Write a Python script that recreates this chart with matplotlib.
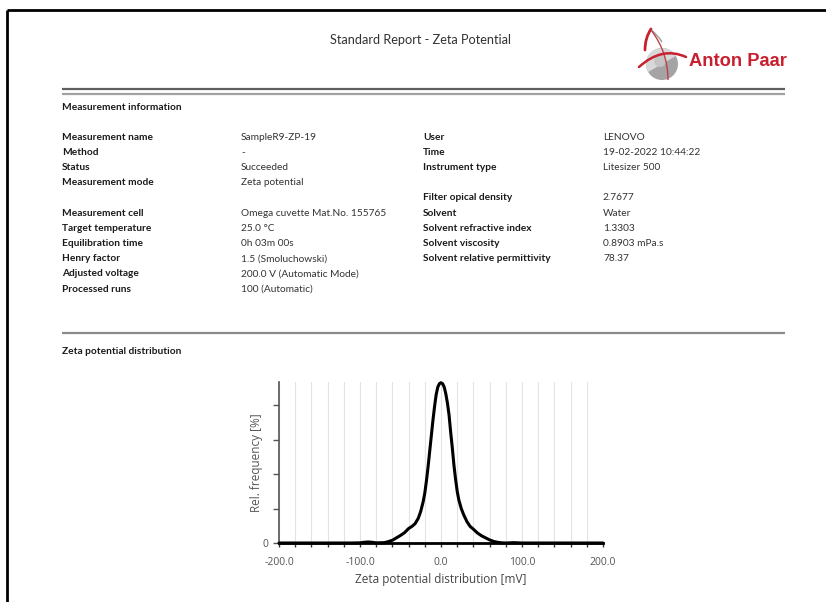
import matplotlib
matplotlib.use("Agg")
import matplotlib.pyplot as plt
from matplotlib.patches import Circle, Wedge, PathPatch
from matplotlib.path import Path
from matplotlib.ticker import MultipleLocator, FixedLocator

# ---------------- report content ----------------
report_title = "Standard Report - Zeta Potential"
brand = "Anton Paar"
section_info = "Measurement information"
section_dist = "Zeta potential distribution"

left_labels = ["Measurement name", "Method", "Status", "Measurement mode", None,
               "Measurement cell", "Target temperature", "Equilibration time",
               "Henry factor", "Adjusted voltage", "Processed runs"]
left_values = ["SampleR9-ZP-19", "-", "Succeeded", "Zeta potential", None,
               "Omega cuvette Mat.No. 155765", "25.0 \u00b0C", "0h 03m 00s",
               "1.5 (Smoluchowski)", "200.0 V (Automatic Mode)", "100 (Automatic)"]
right_labels = ["User", "Time", "Instrument type", None, "Filter opical density",
                "Solvent", "Solvent refractive index", "Solvent viscosity",
                "Solvent relative permittivity"]
right_values = ["LENOVO", "19-02-2022 10:44:22", "Litesizer 500", None, "2.7677",
                "Water", "1.3303", "0.8903 mPa.s", "78.37"]

# ---------------- distribution data ----------------
zeta_mv = [-200, -110, -100, -95, -90, -85, -80, -70, -65, -60, -55, -50, -45,
           -40, -36, -32, -28, -25, -22, -20, -18, -16, -14, -12, -10, -8, -6,
           -4, -2, 0, 2, 4, 6, 8, 10, 12, 14, 16, 18, 20, 22, 25, 28, 32, 36,
           40, 45, 50, 55, 60, 65, 70, 75, 80, 90, 100, 200]
rel_freq = [0, 0, 0.005, 0.02, 0.03, 0.02, 0.005, 0.01, 0.04, 0.08, 0.15, 0.22,
            0.30, 0.42, 0.48, 0.56, 0.72, 0.92, 1.2, 1.45, 1.8, 2.2, 2.65, 3.1,
            3.55, 3.95, 4.3, 4.52, 4.62, 4.65, 4.62, 4.52, 4.32, 4.05, 3.7, 3.2,
            2.75, 2.25, 1.85, 1.5, 1.25, 1.0, 0.82, 0.62, 0.48, 0.40, 0.29, 0.21,
            0.15, 0.09, 0.045, 0.02, 0.005, 0, 0.01, 0, 0]
x_major = [-200, -100, 0, 100, 200]
x_major_labels = ["-200.0", "-100.0", "0.0", "100.0", "200.0"]
y_ticks = [0, 1, 2, 3, 4]
y_tick_labels = ["0", "", "", "", ""]

W, H = 826, 602
fig = plt.figure(figsize=(W / 100, H / 100), dpi=100)
fig.patch.set_facecolor("white")

# page layer in pixel coordinates (y downwards)
page = fig.add_axes([0, 0, 1, 1], zorder=0)
page.set_xlim(0, W)
page.set_ylim(H, 0)
page.axis("off")

TXT = "Lato"

# page frame
page.plot([7, W], [10, 10], color="black", lw=2.0, solid_capstyle="butt")
page.plot([7, 7], [10, H], color="black", lw=2.0, solid_capstyle="butt")

# title
page.text(421, 40, report_title, fontsize=9.2, family=TXT, color="#333333",
          ha="center", va="center")

# logo: grey sphere with red orbit strokes
page.add_patch(Circle((662, 64), 16, facecolor="#a4a4a4", edgecolor="none"))
page.add_patch(Wedge((662, 64), 16, 150, 330, facecolor="#d8d8d8",
                     edgecolor="none"))
page.add_patch(Circle((660, 61), 6, facecolor="#c4c4c4", edgecolor="none"))
red = "#c8202f"
apex_grey = Path([(651, 30), (657, 34), (662, 42)],
                 [Path.MOVETO, Path.CURVE3, Path.CURVE3])
page.add_patch(PathPatch(apex_grey, facecolor="none", edgecolor="#9a9a9a", lw=1.0))
apex = Path([(645, 50), (645, 38), (651, 29)],
            [Path.MOVETO, Path.CURVE3, Path.CURVE3])
page.add_patch(PathPatch(apex, facecolor="none", edgecolor=red, lw=2.0,
                         capstyle="round"))
stem = Path([(651, 30), (668, 52), (668, 80)], [Path.MOVETO, Path.CURVE3, Path.CURVE3])
page.add_patch(PathPatch(stem, facecolor="none", edgecolor="#c0404a", lw=1.0))
orbit = Path([(639, 67), (662, 46), (686, 57)],
             [Path.MOVETO, Path.CURVE3, Path.CURVE3])
page.add_patch(PathPatch(orbit, facecolor="none", edgecolor=red, lw=1.8,
                         capstyle="round"))
page.text(689, 61, brand, fontsize=13.2, family="Liberation Sans",
          fontweight="bold", color=red, ha="left", va="center")

# separators
page.plot([62, 785], [89, 89], color="#5f5f5f", lw=1.6, solid_capstyle="butt")
page.plot([62, 785], [94, 94], color="#a0a0a0", lw=1.6, solid_capstyle="butt")
page.plot([62, 785], [333, 333], color="#8a8a8a", lw=1.6, solid_capstyle="butt")

FS = 7.3
page.text(62, 107, section_info, fontsize=FS, family=TXT, fontweight="bold",
          color="#1a1a1a", va="center")
page.text(62, 351, section_dist, fontsize=FS, family=TXT, fontweight="bold",
          color="#1a1a1a", va="center")

row_h = 15.2
for i, (lab, val) in enumerate(zip(left_labels, left_values)):
    if lab is None:
        continue
    y = 137 + i * row_h
    page.text(62, y, lab, fontsize=FS, family=TXT, fontweight="bold",
              color="#1a1a1a", va="center")
    page.text(241, y, val, fontsize=FS, family=TXT, color="#333333", va="center")
for i, (lab, val) in enumerate(zip(right_labels, right_values)):
    if lab is None:
        continue
    y = 137 + i * row_h
    page.text(423, y, lab, fontsize=FS, family=TXT, fontweight="bold",
              color="#1a1a1a", va="center")
    page.text(603, y, val, fontsize=FS, family=TXT, color="#333333", va="center")

# ---------------- distribution chart ----------------
ax_l, ax_r, ax_t, ax_b = 279, 603, 382, 543
ax = fig.add_axes([ax_l / W, (H - ax_b) / H, (ax_r - ax_l) / W, (ax_b - ax_t) / H],
                  zorder=2)
ax.patch.set_alpha(0)
ax.plot(zeta_mv, rel_freq, color="black", lw=2.2, solid_joinstyle="round",
        solid_capstyle="round", clip_on=False, zorder=3)
ax.set_xlim(-200, 200)
ax.set_ylim(0, 4.67)

ax.xaxis.set_major_locator(FixedLocator(x_major))
ax.set_xticklabels(x_major_labels)
ax.xaxis.set_minor_locator(MultipleLocator(20))
ax.set_yticks(y_ticks)
ax.set_yticklabels(y_tick_labels)
ax.grid(axis="x", which="both", color="#e3e3e3", lw=0.8, zorder=0)

for side in ("top", "right"):
    ax.spines[side].set_visible(False)
ax.spines["bottom"].set_color("black")
ax.spines["bottom"].set_linewidth(2.0)
ax.spines["left"].set_color("#555555")
ax.spines["left"].set_linewidth(1.2)

ax.tick_params(axis="x", which="both", direction="out", length=3, width=1,
               color="#333333", labelsize=7.5, labelcolor="#555555", pad=7)
ax.tick_params(axis="y", direction="out", length=4, width=1, color="#555555",
               labelsize=7.5, labelcolor="#555555", pad=4)
for t in ax.get_xticklabels() + ax.get_yticklabels():
    t.set_family("Open Sans")

ax.set_xlabel("Zeta potential distribution [mV]", fontsize=8.5, family="Open Sans",
              color="#444444")
ax.xaxis.set_label_coords(0.5, -(573 - ax_b) / (ax_b - ax_t))
ax.set_ylabel("Rel. frequency [%]", fontsize=8.5, family="Open Sans",
              color="#555555")
ax.yaxis.set_label_coords(-(ax_l - 263) / (ax_r - ax_l), 0.5)

fig.savefig("out.png", dpi=100, facecolor="white")
